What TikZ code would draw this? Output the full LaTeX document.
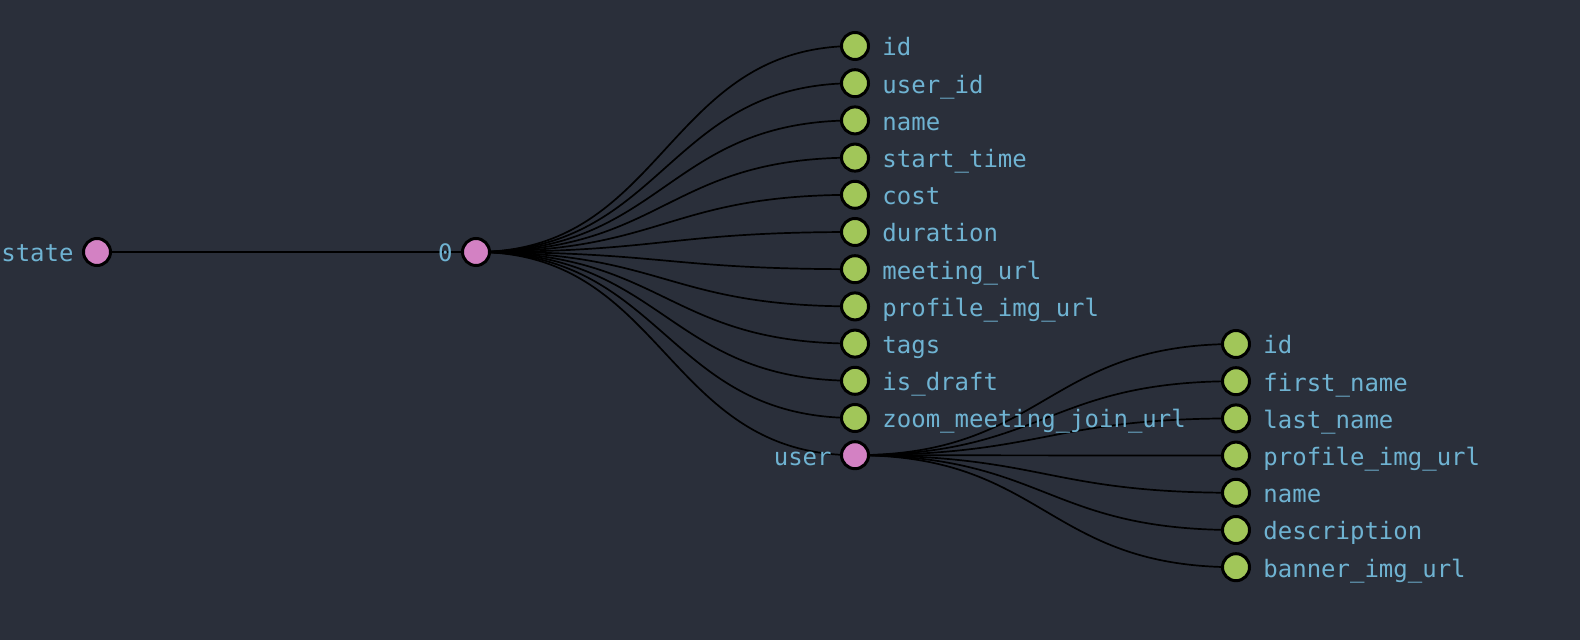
\documentclass[tikz,border=0pt]{standalone}
\usepackage{fontspec}
\setmonofont{DejaVu Sans Mono}
\usetikzlibrary{positioning,calc}
\definecolor{bgcol}{HTML}{2A2F3A}
\definecolor{pinkcol}{HTML}{D381C3}
\definecolor{greencol}{HTML}{A1C659}
\definecolor{textcol}{HTML}{6FB3D2}
\pgfdeclarelayer{bg}
\pgfdeclarelayer{edges}
\pgfsetlayers{bg,edges,main}
\tikzstyle{dot} = [circle, draw=black, line width=1.5pt, minimum size=13.5pt, inner sep=0pt]
\tikzstyle{branch} = [dot, fill=pinkcol]
\tikzstyle{leaf} = [dot, fill=greencol]
\tikzstyle{lbl} = [text=textcol, font=\ttfamily\fontsize{12}{14}\selectfont, inner sep=0pt, text height=12pt, text depth=2pt]
\tikzstyle{link} = [draw=black, line width=0.85pt]

\begin{document}
\begin{tikzpicture}[x=0.5pt,y=-0.5pt]
\begin{pgfonlayer}{bg}
\fill[bgcol] (0,0) rectangle (1580,640);
\end{pgfonlayer}
\useasboundingbox (0,0) rectangle (1580,640);

\node[branch] (state) at (97,252) {};
\node[lbl, left=4pt of state] (statel) {state};
\node[branch] (root) at (476,252) {};
\node[lbl, left=4pt of root] (rootl) {0};

\foreach \nm [count=\i] in {id,user\_id,name,start\_time,cost,duration,meeting\_url,profile\_img\_url,tags,is\_draft,zoom\_meeting\_join\_url}
{
  \node[leaf] (f\i) at (855,{46+37.2*(\i-1)}) {};
  \node[lbl, right=6pt of f\i] (f\i l) {\nm};
}
\node[branch] (user) at (855,455.2) {};
\node[lbl, left=4pt of user] (userl) {user};

\foreach \nm [count=\j] in {id,first\_name,last\_name,profile\_img\_url,name,description,banner\_img\_url}
{
  \node[leaf] (u\j) at (1236,{344+37.2*(\j-1)}) {};
  \node[lbl, right=6pt of u\j] (u\j l) {\nm};
}

\begin{pgfonlayer}{edges}
\draw[link] (state.center) -- (root.center);
\foreach \c in {f1,f2,f3,f4,f5,f6,f7,f8,f9,f10,f11,user}
  \draw[link] let \p1=(root.center), \p2=(\c.center) in
    (\p1) .. controls ({(\x1+\x2)/2},\y1) and ({(\x1+\x2)/2},\y2) .. (\p2);
\foreach \c in {u1,u2,u3,u4,u5,u6,u7}
  \draw[link] let \p1=(user.center), \p2=(\c.center) in
    (\p1) .. controls ({(\x1+\x2)/2},\y1) and ({(\x1+\x2)/2},\y2) .. (\p2);
\end{pgfonlayer}
\end{tikzpicture}
\end{document}
